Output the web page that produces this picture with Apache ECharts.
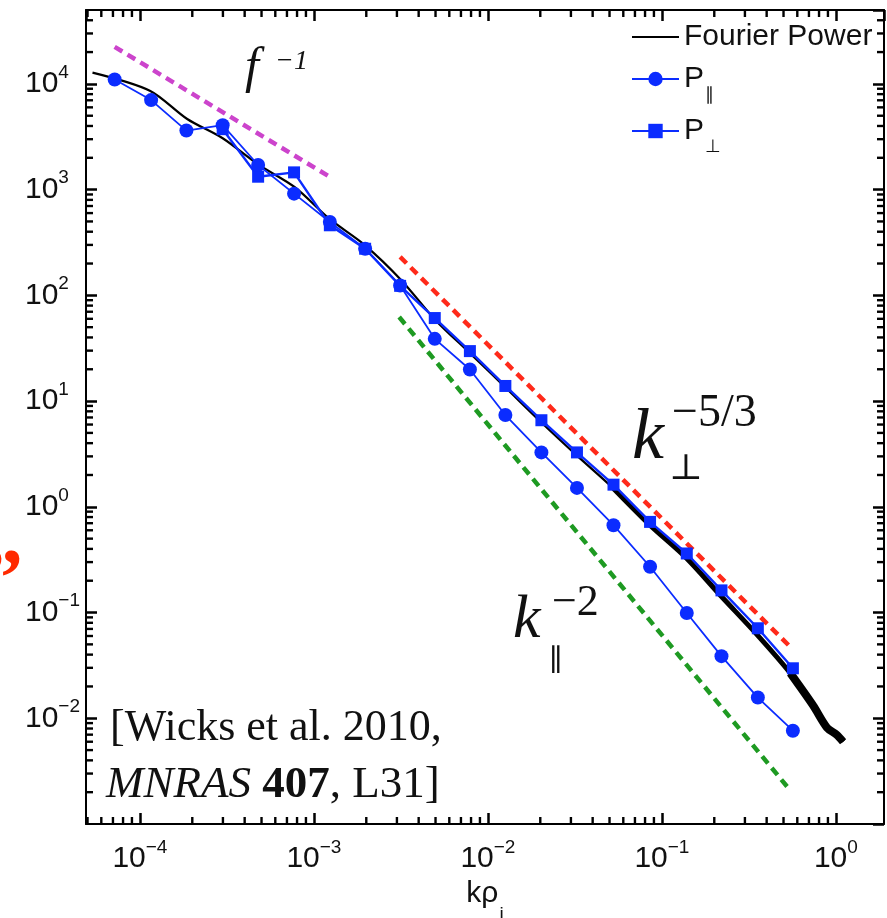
<!DOCTYPE html>
<html>
<head>
<meta charset="utf-8">
<script src="https://cdn.jsdelivr.net/npm/echarts@6/dist/echarts.min.js"></script>
<style>
  html, body { margin: 0; padding: 0; background: #fff; }
  #chart { width: 887px; height: 918px; }
</style>
</head>
<body>
<div id="chart"></div>
<script>
// k rho_i bins of the binned spectra
const kBins = [7.16e-5, 1.16e-4, 1.85e-4, 2.99e-4, 4.78e-4, 7.69e-4, 1.235e-3, 1.97e-3, 3.13e-3, 4.95e-3,
               7.88e-3, 1.26e-2, 2.03e-2, 3.25e-2, 5.27e-2, 8.55e-2, 0.139, 0.220, 0.356, 0.566];
// power along the local field (circles)
const pPar  = [1.10e4, 7030, 3620, 4070, 1710, 916, 494, 276, 124, 38.8,
               19.9, 7.38, 3.27, 1.51, 0.67, 0.271, 0.099, 0.0387, 0.0157, 0.00763];
// power across the local field (squares)
const pPerp = [null, null, null, 3730, 1325, 1456, 460, 276, 123, 61,
               29.7, 13.9, 6.59, 3.27, 1.62, 0.72, 0.362, 0.162, 0.071, 0.0297];
// global Fourier power spectrum
const fourierK = [5.34e-5, 1.14e-4, 1.87e-4, 2.99e-4, 4.78e-4, 7.73e-4, 1.23e-3, 1.96e-3, 3.17e-3, 5.00e-3,
                  7.88e-3, 1.27e-2, 2.03e-2, 3.25e-2, 5.27e-2, 8.55e-2, 0.139, 0.218, 0.350, 0.547,
                  0.740, 0.889, 1.01, 1.10];
const fourierP = [1.28e4, 8630, 4660, 3060, 1730, 1060, 528, 299, 140, 58.3,
                  28.4, 13.3, 6.28, 3.05, 1.49, 0.67, 0.325, 0.144, 0.0625, 0.0267,
                  0.0132, 0.00815, 0.0070, 0.0060];
// reference power laws (end points)
const slopeF1   = [[7.16e-5, 2.24e4], [1.23e-3, 1324]];     // f^-1
const slopePerp = [[3.13e-3, 231],    [0.558, 0.0458]];     // k_perp^-5/3
const slopePar  = [[3.09e-3, 62.4],   [0.535, 2.17e-3]];    // k_par^-2
// axis extents and labelled decades
const xRange = [4.9e-5, 1.89];
const yRange = [1e-3, 5e4];
const xDecades = [-4, -3, -2, -1, 0];
const yDecades = [-2, -1, 0, 1, 2, 3, 4];

const sans = '"Liberation Sans", Arial, Helvetica, sans-serif';
const serif = '"Liberation Serif", "Times New Roman", serif';
const INK = '#111';
const BLUE = '#0b2cff';

function pairs(xs, ys, from, to) {
  const out = [];
  for (let i = from || 0; i < (to == null ? xs.length : to); i++) {
    if (ys[i] != null) out.push([xs[i], ys[i]]);
  }
  return out;
}

function decadeFormatter(list) {
  return function (v) {
    const e = Math.log10(v), r = Math.round(e);
    if (Math.abs(e - r) > 1e-6 || list.indexOf(r) < 0) return '';
    return '{b|10}{s|' + (r < 0 ? '\u2212' + (-r) : r) + '}';
  };
}
const tickRich = {
  b: { fontFamily: sans, fontSize: 30, color: INK, lineHeight: 30, verticalAlign: 'bottom' },
  s: { fontFamily: sans, fontSize: 19, color: INK, lineHeight: 19, verticalAlign: 'bottom', padding: [0, 0, 17, 0] }
};

function axisBase(extra) {
  return Object.assign({
    type: 'log', logBase: 10,
    axisLine: { show: true, onZero: false, lineStyle: { color: '#000', width: 2 } },
    axisTick: { show: true, inside: true, length: 11, lineStyle: { color: '#000', width: 2.5 } },
    minorTick: { show: false },
    splitLine: { show: false }
  }, extra);
}

function dashed(name, data, color) {
  return {
    name: name, type: 'line', data: data, symbol: 'none', silent: true, z: 1,
    lineStyle: { color: color, width: 4.5, type: [9, 6] }
  };
}

// text annotations drawn over the plot
const annotations = [
  // f^-1
  { type: 'text', x: 245, y: 44, silent: true, style: { text: 'f', font: 'italic 50px ' + serif, fill: INK } },
  { type: 'text', x: 275, y: 48, silent: true, style: { text: '\u22121', font: 'italic 28px ' + serif, fill: INK } },
  // k_perp^-5/3
  { type: 'text', x: 632, y: 403, silent: true, style: { text: 'k', font: 'italic 72px ' + serif, fill: INK } },
  { type: 'text', x: 672, y: 391, silent: true, style: { text: '\u22125/3', font: '46px ' + serif, fill: INK } },
  { type: 'text', x: 669, y: 452, silent: true, style: { text: '\u22a5', font: '36px "DejaVu Serif", serif', fill: INK } },
  // k_par^-2
  { type: 'text', x: 513, y: 590, silent: true, style: { text: 'k', font: 'italic 62px ' + serif, fill: INK } },
  { type: 'text', x: 552, y: 581, silent: true, style: { text: '\u22122', font: '44px ' + serif, fill: INK } },
  { type: 'text', x: 549, y: 647, silent: true, style: { text: '\u2225', font: '30px "DejaVu Serif", serif', fill: INK } },
  // citation
  { type: 'text', x: 110, y: 706, silent: true, style: { text: '[Wicks et al. 2010,', font: '44px ' + serif, fill: INK } },
  { type: 'text', x: 106, y: 763, silent: true, style: {
    text: '{i|MNRAS} {b|407}, L31]', font: '45px ' + serif, fill: INK,
    rich: { i: { font: 'italic 45px ' + serif, fill: INK }, b: { font: 'bold 45px ' + serif, fill: INK } }
  } },
  // closing quote from the surrounding slide
  { type: 'text', x: -18, y: 543, silent: true, style: { text: '\u201d', font: 'bold 82px ' + serif, fill: '#ff2a00' } }
];

const option = {
  backgroundColor: '#fff',
  animation: false,
  grid: { left: 86, top: 10, width: 798, height: 814, outerBoundsMode: 'none', containLabel: false },
  xAxis: [
    axisBase({
      min: xRange[0], max: xRange[1], position: 'bottom',
      axisLabel: { formatter: decadeFormatter(xDecades), rich: tickRich, margin: 20, showMinLabel: false, showMaxLabel: false },
      name: '{k|k\u03c1}{i|i}', nameLocation: 'middle', nameGap: 35,
      nameTextStyle: { rich: {
        k: { fontFamily: sans, fontSize: 30, color: INK, lineHeight: 30, verticalAlign: 'top' },
        i: { fontFamily: sans, fontSize: 19, color: INK, lineHeight: 19, verticalAlign: 'top', padding: [26, 0, 0, 1] }
      } }
    }),
    axisBase({ min: xRange[0], max: xRange[1], position: 'top', axisLabel: { show: false } })
  ],
  yAxis: [
    axisBase({
      min: yRange[0], max: yRange[1], position: 'left',
      axisLabel: { formatter: decadeFormatter(yDecades), rich: tickRich, align: 'left', margin: 61, showMinLabel: false, showMaxLabel: false }
    }),
    axisBase({ min: yRange[0], max: yRange[1], position: 'right', axisLabel: { show: false } })
  ],
  legend: {
    data: [
      { name: 'Fourier Power', icon: 'path://M0,0 L47,0 L47,2 L0,2 Z' },
      { name: 'P\u2225' },
      { name: 'P\u22a5' }
    ],
    orient: 'vertical', left: 626, top: 17, itemWidth: 47, itemHeight: 18, itemGap: 12,
    selectedMode: false,
    textStyle: {
      fontFamily: sans, fontSize: 30, color: INK,
      rich: {
        n: { fontFamily: sans, fontSize: 30, color: INK, lineHeight: 30, verticalAlign: 'top' },
        s: { fontFamily: sans, fontSize: 18, color: INK, lineHeight: 18, verticalAlign: 'top', padding: [22, 0, 0, 1] }
      }
    },
    formatter: function (name) {
      if (name === 'P\u2225') return '{n|P}{s|\u2225}';
      if (name === 'P\u22a5') return '{n|P}{s|\u22a5}';
      return '{n|' + name + '}';
    }
  },
  series: [
    dashed('f^-1', slopeF1, '#cc44cc'),
    dashed('k_perp^-5/3', slopePerp, '#ff2a1a'),
    dashed('k_par^-2', slopePar, '#1e9a22'),
    {
      name: 'Fourier Power', type: 'line', data: pairs(fourierK, fourierP), symbol: 'none', z: 2, smooth: 0.3,
      lineStyle: { color: '#000', width: 2.2 }, itemStyle: { color: '#000' }
    },
    {
      name: 'Fourier Power', type: 'line', data: pairs(fourierK, fourierP, 14), symbol: 'none', z: 2, smooth: 0.3,
      lineStyle: { color: '#000', width: 5 }, itemStyle: { color: '#000' }
    },
    {
      name: 'Fourier Power', type: 'line', data: pairs(fourierK, fourierP, 19), symbol: 'none', z: 2, smooth: 0.3,
      lineStyle: { color: '#000', width: 8 }, itemStyle: { color: '#000' }
    },
    {
      name: 'P\u22a5', type: 'line', data: pairs(kBins, pPerp), symbol: 'rect', symbolSize: 12, z: 3,
      lineStyle: { color: BLUE, width: 2.4 }, itemStyle: { color: BLUE }
    },
    {
      name: 'P\u2225', type: 'line', data: pairs(kBins, pPar), symbol: 'circle', symbolSize: 14, z: 4,
      lineStyle: { color: BLUE, width: 1.8 }, itemStyle: { color: BLUE }
    }
  ]
};

const chart = echarts.init(document.getElementById('chart'), null, { renderer: 'canvas' });
chart.setOption(option);

// inward minor ticks (2..9 x 10^n) on all four sides, placed through the axis scales
function buildMinorTicks() {
  const MINOR = 7, W = 2.4;
  const toPx = (x, y) => chart.convertToPixel({ xAxisIndex: 0, yAxisIndex: 0 }, [x, y]);
  const els = [];
  const bar = (x, y, w, h) => els.push({ type: 'rect', silent: true, z: 100,
    shape: { x: x, y: y, width: w, height: h }, style: { fill: '#000' } });
  function minorValues(range) {
    const out = [];
    for (let e = -6; e <= 6; e++) {
      for (let m = 2; m <= 9; m++) {
        const v = m * Math.pow(10, e);
        if (v > range[0] && v < range[1]) out.push(v);
      }
    }
    return out;
  }
  minorValues(xRange).forEach(v => {
    const b = toPx(v, yRange[0]), t = toPx(v, yRange[1]);
    bar(b[0] - W / 2, b[1] - MINOR, W, MINOR);
    bar(t[0] - W / 2, t[1], W, MINOR);
  });
  minorValues(yRange).forEach(v => {
    const l = toPx(xRange[0], v), r = toPx(xRange[1], v);
    bar(l[0], l[1] - W / 2, MINOR, W);
    bar(r[0] - MINOR, r[1] - W / 2, MINOR, W);
  });
  return els;
}

chart.setOption({ graphic: annotations.concat(buildMinorTicks()) });
</script>
</body>
</html>
